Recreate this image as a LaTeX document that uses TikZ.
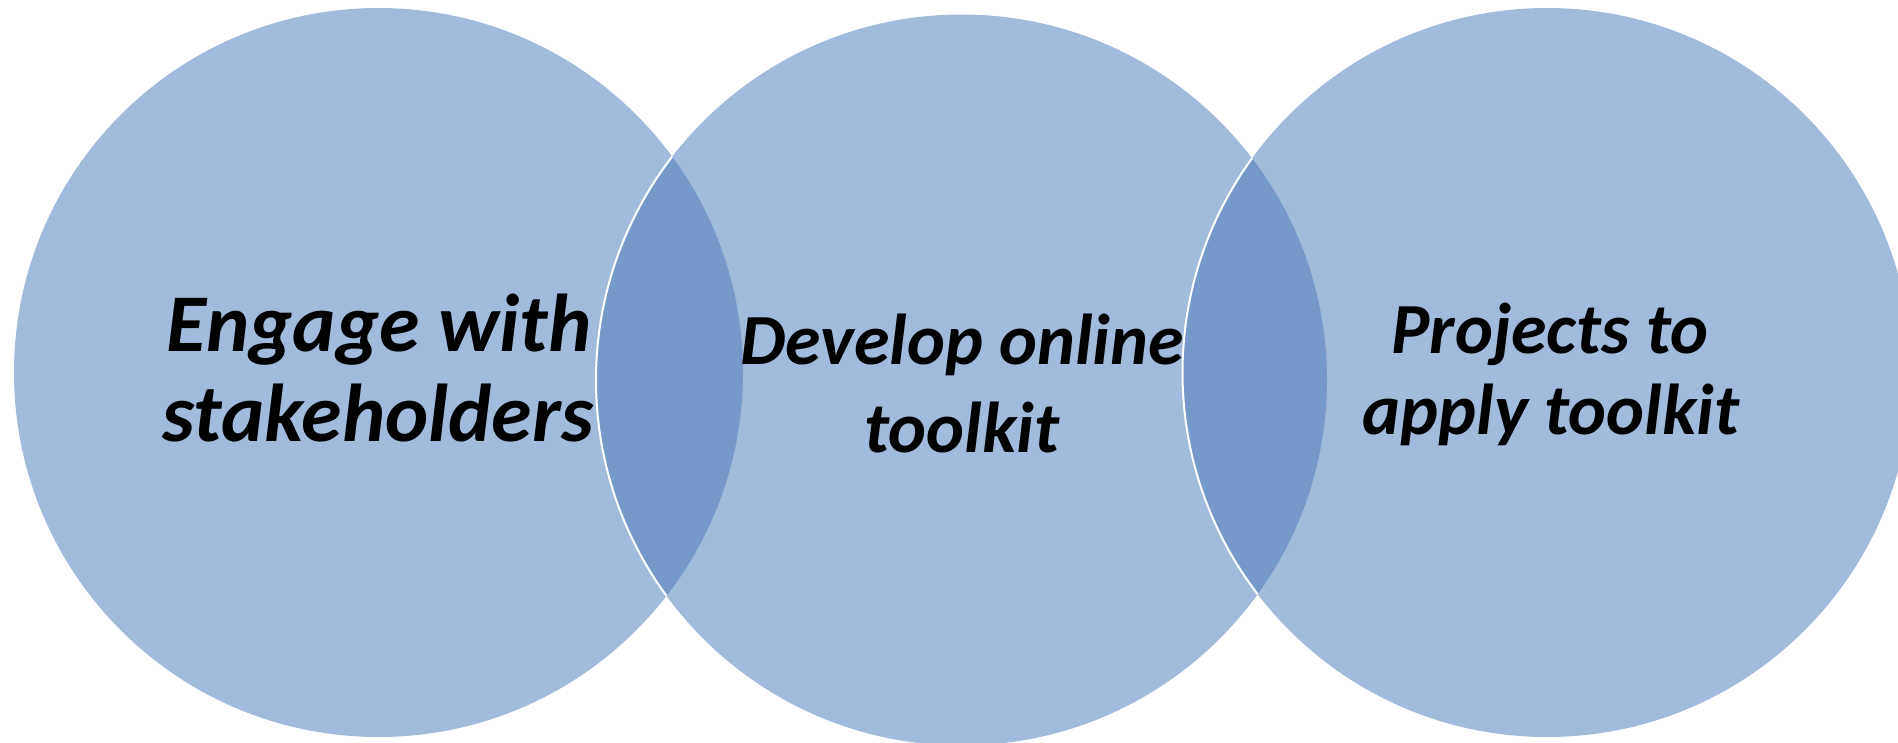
\documentclass[tikz,border=0pt]{standalone}
\usepackage{fontspec}
\setmainfont{Carlito}
\definecolor{venn}{HTML}{A2BBDC}
\definecolor{lens}{HTML}{7599CB}
\tikzset{
  vtext/.style={anchor=base, inner sep=0pt, text=black, font=\bfseries\itshape},
}
\begin{document}
\begin{tikzpicture}[x=1pt,y=-1pt]
\useasboundingbox (0,0) rectangle (1898,742);
\clip (0,0) rectangle (1898,742);
\coordinate (c1) at (378.5,372.5);
\coordinate (c2) at (961.5,380);
\coordinate (c3) at (1547,372.5);
\def\ra{364.5}
\def\rb{365.5}
\def\rc{364.5}
% circles
\fill[venn] (c1) circle (\ra);
\fill[venn] (c2) circle (\rb);
\fill[venn] (c3) circle (\rc);
% lenses
\begin{scope}
  \clip (c1) circle (\ra);
  \fill[lens] (c2) circle (\rb);
\end{scope}
\begin{scope}
  \clip (c2) circle (\rb);
  \fill[lens] (c3) circle (\rc);
\end{scope}
% white outlines on left lens boundaries
\begin{scope}
  \clip (c1) circle (\ra);
  \draw[white, line width=2pt] (c2) circle (\rb);
\end{scope}
\begin{scope}
  \clip (c2) circle (\rb);
  \draw[white, line width=2pt] (c3) circle (\rc);
\end{scope}
% texts
\node[vtext, font=\bfseries\itshape\fontsize{82}{90}\selectfont] (t1a) at (379,351) {Engage with};
\node[vtext, font=\bfseries\itshape\fontsize{82}{90}\selectfont] (t1b) at (378,441) {stakeholders};
\node[vtext, font=\bfseries\itshape\fontsize{72}{88}\selectfont] (t2a) at (962,364) {Develop online};
\node[vtext, font=\bfseries\itshape\fontsize{72}{88}\selectfont] (t2b) at (962,452) {toolkit};
\node[vtext, font=\bfseries\itshape\fontsize{72}{80}\selectfont] (t3a) at (1550,353) {Projects to};
\node[vtext, font=\bfseries\itshape\fontsize{72}{80}\selectfont] (t3b) at (1551,434) {apply toolkit};
\end{tikzpicture}
\end{document}
